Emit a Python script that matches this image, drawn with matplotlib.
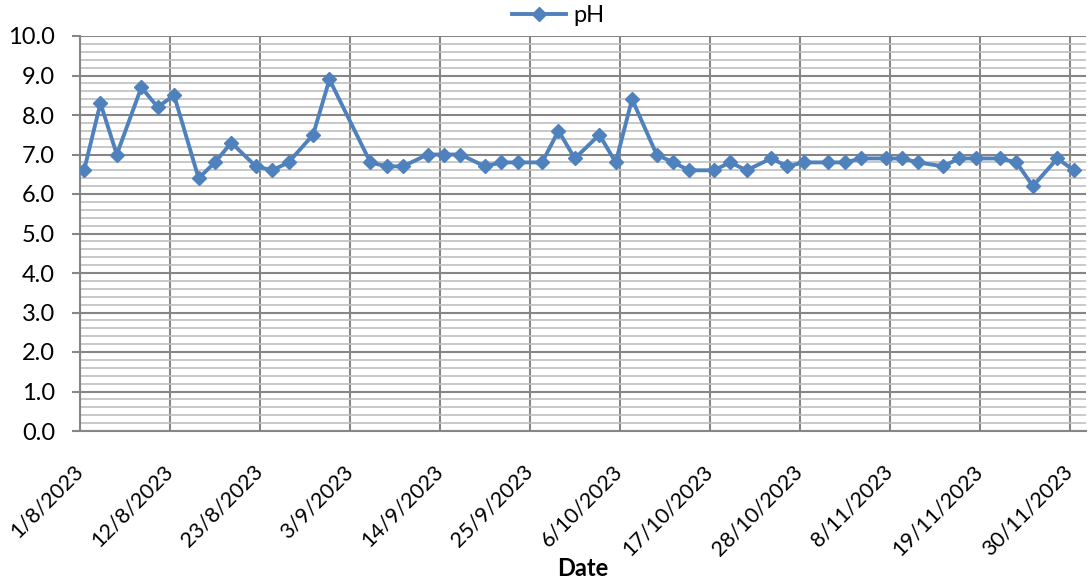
import matplotlib
matplotlib.use('Agg')
import matplotlib.pyplot as plt
from matplotlib.ticker import MultipleLocator, FormatStrFormatter
import pandas as pd

plt.rcParams['font.family'] = ['Lato', 'DejaVu Sans']

# sampling dates (Tue/Thu/Sat) and pH readings
dates = [
    '2023-08-01', '2023-08-03', '2023-08-05', '2023-08-08', '2023-08-10', '2023-08-12',
    '2023-08-15', '2023-08-17', '2023-08-19', '2023-08-22', '2023-08-24', '2023-08-26',
    '2023-08-29', '2023-08-31', '2023-09-05', '2023-09-07', '2023-09-09', '2023-09-12',
    '2023-09-14', '2023-09-16', '2023-09-19', '2023-09-21', '2023-09-23', '2023-09-26',
    '2023-09-28', '2023-09-30', '2023-10-03', '2023-10-05', '2023-10-07', '2023-10-10',
    '2023-10-12', '2023-10-14', '2023-10-17', '2023-10-19', '2023-10-21', '2023-10-24',
    '2023-10-26', '2023-10-28', '2023-10-31', '2023-11-02', '2023-11-04', '2023-11-07',
    '2023-11-09', '2023-11-11', '2023-11-14', '2023-11-16', '2023-11-18', '2023-11-21',
    '2023-11-23', '2023-11-25', '2023-11-28', '2023-11-30',
]
ph = [
    6.6, 8.3, 7.0, 8.7, 8.2, 8.5,
    6.4, 6.8, 7.3, 6.7, 6.6, 6.8,
    7.5, 8.9, 6.8, 6.7, 6.7, 7.0,
    7.0, 7.0, 6.7, 6.8, 6.8, 6.8,
    7.6, 6.9, 7.5, 6.8, 8.4, 7.0,
    6.8, 6.6, 6.6, 6.8, 6.6, 6.9,
    6.7, 6.8, 6.8, 6.8, 6.9, 6.9,
    6.9, 6.8, 6.7, 6.9, 6.9, 6.9,
    6.8, 6.2, 6.9, 6.6,
]
tick_dates = pd.date_range('2023-08-01', '2023-11-30', freq='11D')

line_color = '#4F81BD'
major_grid = '#868686'
minor_grid = '#BFBFBF'
fs = 17

fig = plt.figure(figsize=(10.88, 5.86), dpi=100)
ax = fig.add_axes([80 / 1088, 155 / 586, 1006 / 1088, 395 / 586])

# Excel places each day's point in the middle of the day slot
x = pd.to_datetime(dates) + pd.Timedelta(hours=12)
ax.plot(x, ph, color=line_color, linewidth=2.8, marker='D', markersize=7.5,
        markerfacecolor=line_color, markeredgecolor=line_color, label='pH', zorder=3)

ax.set_xlim(pd.Timestamp('2023-08-01'), pd.Timestamp('2023-12-02'))
ax.set_ylim(0, 10)

ax.set_xticks(tick_dates)
ax.set_xticklabels([f'{d.day}/{d.month}/{d.year}' for d in tick_dates],
                   rotation=45, ha='right', va='center', rotation_mode='anchor')
ax.yaxis.set_major_locator(MultipleLocator(1))
ax.yaxis.set_minor_locator(MultipleLocator(0.2))
ax.yaxis.set_major_formatter(FormatStrFormatter('%.1f'))

ax.grid(which='major', axis='both', color=major_grid, linewidth=1.5, zorder=1)
ax.grid(which='minor', axis='y', color=minor_grid, linewidth=1.2, zorder=0)
ax.set_axisbelow(True)

ax.tick_params(axis='y', which='major', length=6, width=1.5, color=major_grid,
               labelsize=fs, pad=12)
ax.tick_params(axis='y', which='minor', length=0)
ax.tick_params(axis='x', which='major', length=0, labelsize=15.5, pad=27)

for side in ['top', 'right']:
    ax.spines[side].set_visible(False)
for side in ['left', 'bottom']:
    ax.spines[side].set_color(major_grid)
    ax.spines[side].set_linewidth(1.5)

fig.text(583 / 1088, 1 - 569 / 586, 'Date', ha='center', va='center',
         fontsize=fs, fontweight='bold')

fig.legend(loc='center', bbox_to_anchor=(558 / 1088, 1 - 16 / 586), frameon=False,
           fontsize=fs, handlelength=2.3, handletextpad=0.3)

fig.savefig('out.png', dpi=100)
